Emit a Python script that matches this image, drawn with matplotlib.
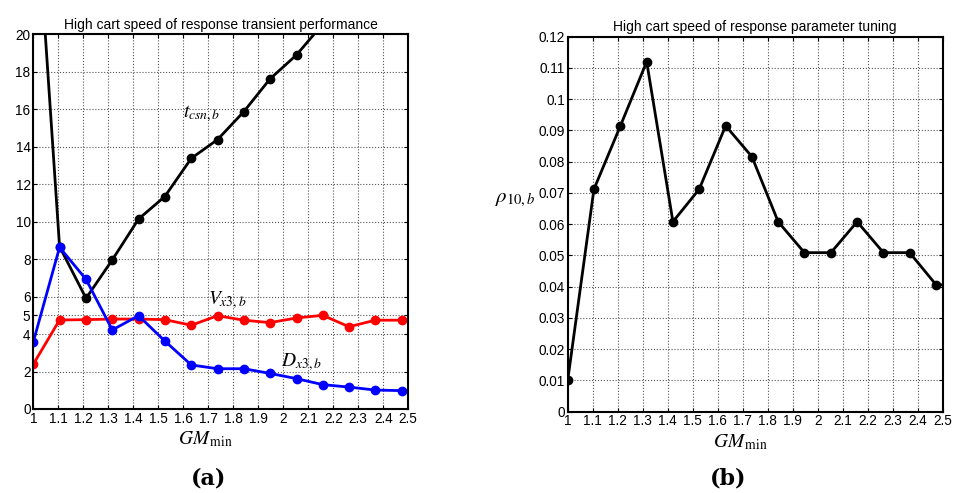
import matplotlib.pyplot as plt
import numpy as np

plt.rcParams['font.family'] = ['Liberation Sans', 'DejaVu Sans']
plt.rcParams['mathtext.fontset'] = 'stix'

# GM_min sample points (step 2/19)
gm = [1.0, 1.105, 1.211, 1.316, 1.421, 1.526, 1.632, 1.737, 1.842, 1.947,
      2.053, 2.158, 2.263, 2.368, 2.474, 2.579]

t_csn = [29.5, 8.67, 5.91, 7.96, 10.14, 11.34, 13.38, 14.38, 15.87, 17.62,
         18.90, 20.55, 21.7, 22.8, 23.9, 25.0]
v_x3 = [2.39, 4.75, 4.77, 4.80, 4.80, 4.77, 4.47, 4.98, 4.74, 4.61,
        4.86, 5.00, 4.39, 4.74, 4.74, 4.74]
d_x3 = [3.58, 8.63, 6.92, 4.22, 4.98, 3.63, 2.35, 2.15, 2.15, 1.90,
        1.62, 1.30, 1.17, 1.01, 0.98, 0.92]
rho = [0.010, 0.0712, 0.0915, 0.112, 0.0608, 0.0712, 0.0915, 0.0816, 0.0608, 0.0509,
       0.0509, 0.0608, 0.0509, 0.0509, 0.0406, 0.0406]

xticks = [1, 1.1, 1.2, 1.3, 1.4, 1.5, 1.6, 1.7, 1.8, 1.9, 2, 2.1, 2.2, 2.3, 2.4, 2.5]
xtick_labels = ['1', '1.1', '1.2', '1.3', '1.4', '1.5', '1.6', '1.7', '1.8', '1.9',
                '2', '2.1', '2.2', '2.3', '2.4', '2.5']
yticks_a = [0, 2, 4, 5, 6, 8, 10, 12, 14, 16, 18, 20]
yticks_b = [0, 0.01, 0.02, 0.03, 0.04, 0.05, 0.06, 0.07, 0.08, 0.09, 0.1, 0.11, 0.12]
ytick_labels_b = ['0', '0.01', '0.02', '0.03', '0.04', '0.05', '0.06', '0.07', '0.08',
                  '0.09', '0.1', '0.11', '0.12']

fig = plt.figure(figsize=(9.57, 4.93), dpi=100)
ax1 = fig.add_axes([0.0348, 0.1704, 0.3918, 0.760])
ax2 = fig.add_axes([0.5932, 0.1649, 0.3918, 0.7606])


def style(ax):
    ax.set_xlim(1, 2.5)
    ax.set_xticks(xticks)
    ax.set_xticklabels(xtick_labels)
    ax.grid(True, linestyle=':', color='#555555', linewidth=0.8)
    ax.tick_params(direction='in', length=3, labelsize=9.8, pad=2,
                   top=True, right=True)
    for s in ax.spines.values():
        s.set_linewidth(1.5)
    ax.set_xlabel(r'$GM_{\,\mathrm{min}}$', fontsize=14, labelpad=3)
    ax.xaxis.set_label_coords(0.46, -0.055)


lw = 2.0
ms = 6
ax1.plot(gm, t_csn, '-o', color='black', lw=lw, ms=ms)
ax1.plot(gm, v_x3, '-o', color='red', lw=lw, ms=ms)
ax1.plot(gm, d_x3, '-o', color='blue', lw=lw, ms=ms)
ax1.set_ylim(0, 20)
ax1.set_yticks(yticks_a)
style(ax1)
ax1.set_title('High cart speed of response transient performance', fontsize=10, pad=4)
ax1.text(1.6, 15.6, r'$t_{csn,b}$', fontsize=14)
ax1.text(1.70, 5.6, r'$V_{x3,b}$', fontsize=14)
ax1.text(1.99, 2.3, r'$D_{x3,b}$', fontsize=14)

ax2.plot(gm, rho, '-o', color='black', lw=lw, ms=ms)
ax2.set_ylim(0, 0.12)
ax2.set_yticks(yticks_b)
ax2.set_yticklabels(ytick_labels_b)
style(ax2)
ax2.set_title('High cart speed of response parameter tuning', fontsize=10, pad=4)
ax2.set_ylabel(r'$\rho_{10,b}$', fontsize=15, rotation=0)
ax2.yaxis.set_label_coords(-0.14, 0.54)

fig.text(0.218, 0.030, '(a)', fontsize=16, fontweight='bold', family='DejaVu Serif',
         ha='center', va='center')
fig.text(0.761, 0.030, '(b)', fontsize=16, fontweight='bold', family='DejaVu Serif',
         ha='center', va='center')

fig.savefig('out.png', dpi=100)
